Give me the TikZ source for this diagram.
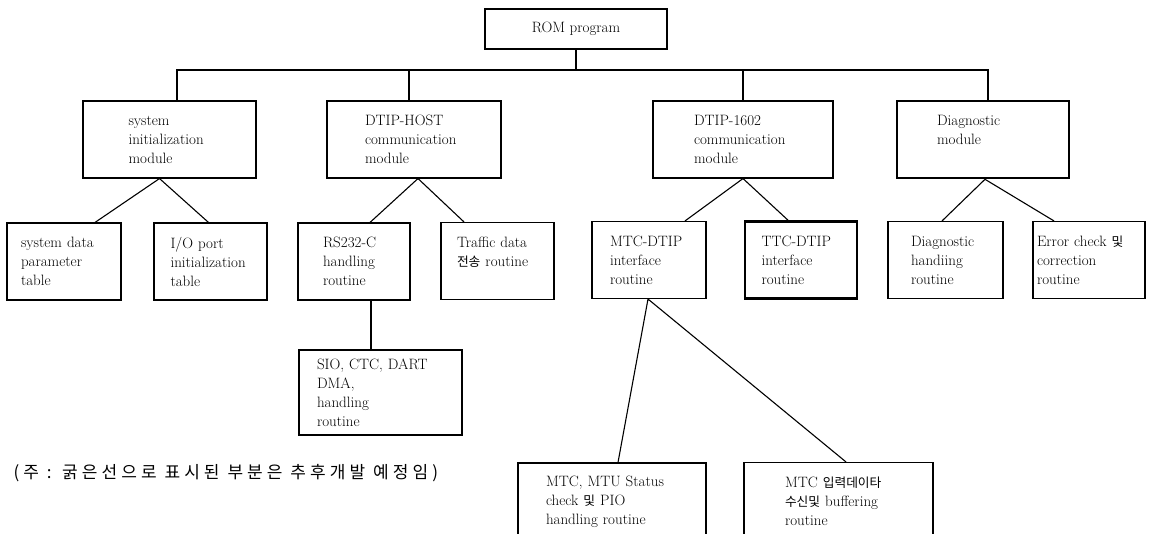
\documentclass[tikz,border=0pt]{standalone}
\usepackage{fontspec}
\newfontfamily\kr[Scale=0.85]{Noto Sans CJK KR}
\newfontfamily\krnote[LetterSpace=24]{Noto Sans CJK KR}

\begin{document}
\begin{tikzpicture}[x=1pt, y=-1pt, line width=1.1pt,
  box/.style={draw, align=left, inner sep=0pt, minimum height=77pt,
    font=\fontsize{15}{19}\selectfont},
  thickbox/.style={box, line width=2.6pt}]
  \useasboundingbox (0,0) rectangle (1154,534);
  \clip (0,0) rectangle (1154,534);
  % top
  \node[box, align=center, minimum width=182pt, minimum height=40pt] (rom) at (576,29) {ROM program};
  % modules
  \node[box, minimum width=173pt, text width=82pt] (init) at (169.5,139.5) {system\\initialization\\module};
  \node[box, minimum width=174pt, text width=98pt] (host) at (414,139.5) {DTIP-HOST\\communication\\module};
  \node[box, minimum width=180pt, text width=98pt] (dtip) at (743,139.5) {DTIP-1602\\communication\\module};
  \node[thickbox, minimum width=172pt, text width=92pt] (diag) at (983,139.5) {Diagnostic\\module\\\mbox{}};
  % routines
  \node[box, minimum width=114pt, text width=86pt] (sysdata) at (64,261.5) {system data\\parameter\\table};
  \node[box, minimum width=113pt, text width=80pt] (ioport) at (210.5,261.5) {I/O port\\initialization\\table};
  \node[box, minimum width=112pt, text width=62pt] (rs232) at (354,261.5) {RS232-C\\handling\\routine};
  \node[box, minimum width=113pt, text width=81pt] (traffic) at (497.5,261) {Traffic data\\{\kr 전송} routine\\\mbox{}};
  \node[box, minimum width=114pt, text width=78pt] (mtcdtip) at (649,260) {MTC-DTIP\\interface\\routine};
  \node[thickbox, minimum width=112pt, text width=79pt] (ttcdtip) at (801,260) {TTC-DTIP\\interface\\routine};
  \node[box, minimum width=115pt, text width=69pt] (diaghand) at (945.5,260) {Diagnostic\\handiing\\routine};
  \node[box, minimum width=112pt, text width=104pt] (errchk) at (1089,260) {Error check {\kr 및}\\correction\\routine};
  % lower level
  \node[box, minimum width=163pt, minimum height=85pt, text width=127pt] (sio) at (380.5,392.5) {SIO, CTC, DART\\DMA,\\handling\\routine};
  \node[box, minimum width=188pt, text width=132pt] (mtcstat) at (612,501.5) {MTC, MTU Status\\check {\kr 및} PIO\\handling routine};
  \node[box, minimum width=189pt, text width=107pt] (mtcbuf) at (838.5,501) {MTC {\kr 입력데이타}\\{\kr 수신및} buffering\\routine};
  % note
  \node[font=\fontsize{17}{19}\selectfont\krnote, anchor=west, inner sep=0pt] (note) at (13,473) {(주 : 굵은선으로 표시된 부분은 추후개발 예정임)};

  % connectors
  \coordinate (busr) at (988,70);
  \draw (rom.south) -- (rom.south |- busr);
  \draw ([xshift=7.5pt]init.north) |- (busr) -- ([xshift=5pt]diag.north);
  \draw ([xshift=-5pt]host.north) -- ([xshift=-5pt]host.north |- busr);
  \draw (dtip.north) -- (dtip.north |- busr);
  \draw ([xshift=31pt]sysdata.north) -- ([xshift=-10pt]init.south) -- ([xshift=-2pt]ioport.north);
  \draw ([xshift=16pt]rs232.north) -- ([xshift=4pt]host.south) -- ([xshift=-33.5pt]traffic.north);
  \draw ([xshift=36pt]mtcdtip.north) -- (dtip.south) -- ([xshift=-13pt]ttcdtip.north);
  \draw ([xshift=-3.5pt]diaghand.north) -- ([xshift=2pt]diag.south) -- ([xshift=-35pt]errchk.north);
  \draw ([xshift=17pt]rs232.south) -- ([xshift=17pt]rs232.south |- sio.north);
  \draw ([xshift=6pt]mtcstat.north) -- ([xshift=-1pt]mtcdtip.south) -- ([xshift=7.5pt]mtcbuf.north);
\end{tikzpicture}
\end{document}
